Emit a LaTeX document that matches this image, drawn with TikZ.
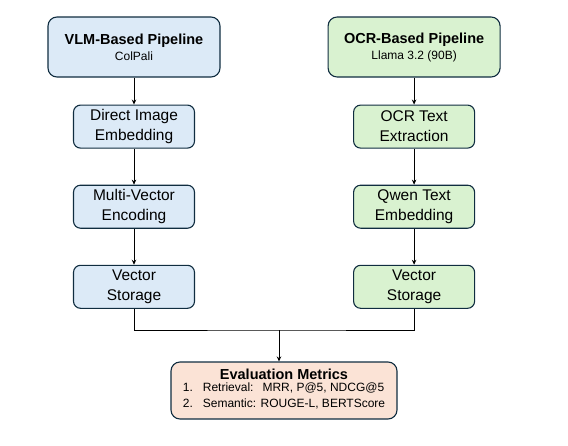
\documentclass[tikz,border=0pt]{standalone}
\usepackage{fontspec}
\setmainfont{Liberation Sans}
\usepackage{tikz}
\usetikzlibrary{arrows.meta, positioning}
\definecolor{framenavy}{RGB}{16,45,64}
\definecolor{vlmblue}{RGB}{220,234,247}
\definecolor{ocrgreen}{RGB}{217,242,208}
\definecolor{metricpeach}{RGB}{251,227,214}
\tikzset{
    pipehead/.style={rectangle, draw=framenavy, line width=1.1pt,
                     rounded corners=9pt, text centered, align=center,
                     minimum width=172pt, minimum height=60pt,
                     font=\fontsize{12}{16}\selectfont},
    stage/.style={rectangle, draw=framenavy, line width=1.1pt,
                  rounded corners=7pt, text centered, align=center,
                  minimum width=121pt, minimum height=43pt,
                  font=\fontsize{15.5}{20}\selectfont},
    metricbox/.style={rectangle, draw=framenavy, fill=metricpeach, line width=1.1pt,
                      rounded corners=9pt, align=center,
                      minimum width=226pt, minimum height=57pt,
                      font=\fontsize{12}{15.5}\selectfont},
    arrow/.style={-{Stealth[length=5pt,width=4.5pt]}, line width=0.9pt, color=black},
    joinline/.style={line width=0.9pt, color=black}
}
\newcommand{\headtitle}[1]{{\fontsize{14.5}{16}\selectfont\bfseries #1}}

\begin{document}
\begin{tikzpicture}[x=1pt, y=1pt]
    \useasboundingbox (0,0) rectangle (568,-445);

    % VLM column
    \node[pipehead, fill=vlmblue] (vlm) at (134,-47) {\headtitle{VLM-Based Pipeline}\\ColPali};
    \node[stage, fill=vlmblue, below=27pt of vlm] (imgemb) {Direct Image\\Embedding};
    \node[stage, fill=vlmblue, below=36pt of imgemb] (multivec) {Multi-Vector\\Encoding};
    \node[stage, fill=vlmblue, below=36pt of multivec] (vstore) {Vector\\Storage};

    % OCR column
    \node[pipehead, fill=ocrgreen, right=107pt of vlm] (ocr) {\headtitle{OCR-Based Pipeline}\\Llama 3.2 (90B)};
    \node[stage, fill=ocrgreen, below=27pt of ocr] (ocrtext) {OCR Text\\Extraction};
    \node[stage, fill=ocrgreen, below=36pt of ocrtext] (qwenemb) {Qwen Text\\Embedding};
    \node[stage, fill=ocrgreen, below=36pt of qwenemb] (ostore) {Vector\\Storage};

    % evaluation
    \node[metricbox] (metrics) at (284,-390.5) {\headtitle{Evaluation Metrics}\\
        \begin{tabular}{@{}l@{\hspace{10pt}}l@{}}
        1. & Retrieval:\hspace{9pt}MRR, P@5, NDCG@5\\
        2. & Semantic: ROUGE-L, BERTScore
        \end{tabular}};

    \draw[arrow] (vlm) -- (imgemb);
    \draw[arrow] (imgemb) -- (multivec);
    \draw[arrow] (multivec) -- (vstore);
    \draw[arrow] (ocr) -- (ocrtext);
    \draw[arrow] (ocrtext) -- (qwenemb);
    \draw[arrow] (qwenemb) -- (ostore);

    \coordinate (merge) at (279,-330);
    \draw[joinline] (vstore.south) |- (merge) -| (ostore.south);
    \draw[arrow] (merge) -- (merge |- metrics.north);
\end{tikzpicture}
\end{document}
